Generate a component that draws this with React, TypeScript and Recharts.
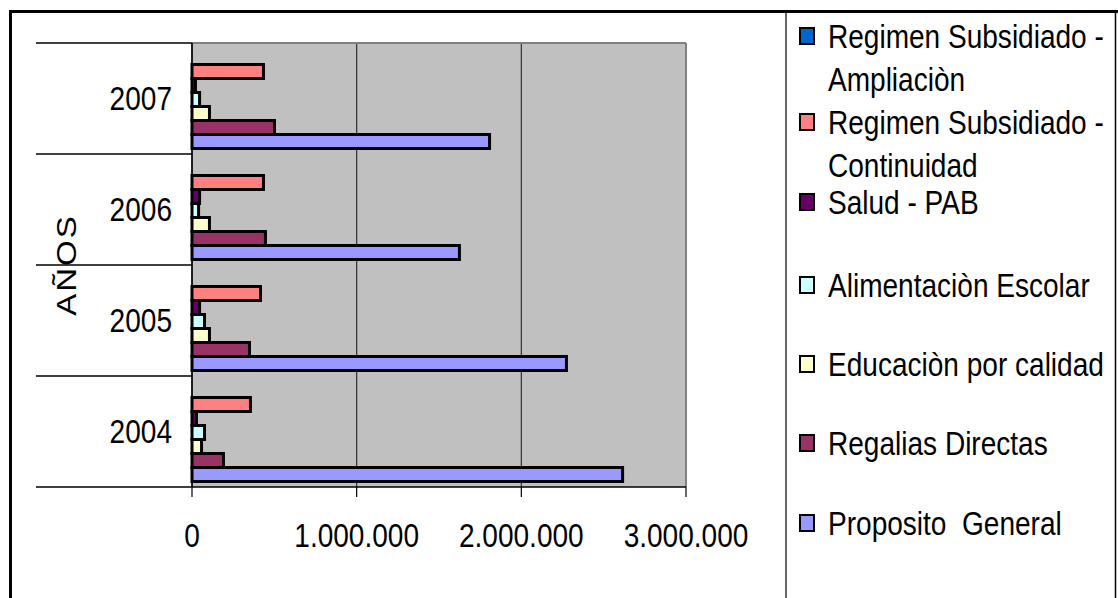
import React from 'react';
import { BarChart, Bar, XAxis, YAxis, CartesianGrid, usePlotArea } from 'recharts';

const years = ['2007', '2006', '2005', '2004'];
const ampliacion = [0, 0, 0, 0];
const continuidad = [434000, 434000, 416000, 355000];
const saludPab = [21000, 46000, 46000, 27000];
const alimentacion = [46000, 40000, 76000, 76000];
const educacion = [106000, 106000, 106000, 58000];
const regalias = [501000, 446000, 349000, 191000];
const proposito = [1807000, 1624000, 2274000, 2615000];
const xTicks = [0, 1000000, 2000000, 3000000];

const seriesKeys = ['amp', 'con', 'sal', 'ali', 'edu', 'reg', 'pro'];
const seriesNames = [
  'Regimen Subsidiado - Ampliaciòn',
  'Regimen Subsidiado - Continuidad',
  'Salud - PAB',
  'Alimentaciòn Escolar',
  'Educaciòn por calidad',
  'Regalias Directas',
  'Proposito  General',
];
const seriesColors = ['#0066CC', '#FF8080', '#660066', '#CCFFFF', '#FFFFCC', '#993366', '#9999FF'];
const seriesValues = [ampliacion, continuidad, saludPab, alimentacion, educacion, regalias, proposito];

const data = years.map((year, i) => {
  const row: any = { year };
  seriesKeys.forEach((k, j) => {
    row[k] = seriesValues[j][i];
  });
  return row;
});

const FONT = "'Liberation Sans', Arial, Helvetica, sans-serif";
const FS = 33;
const SX = 0.85;

const fmt = (v: number) => String(v).replace(/\B(?=(\d{3})+(?!\d))/g, '.');

function SText({ x, cy, anchor = 'start', children }: any) {
  return (
    <text
      transform={`translate(${x},${cy + FS * 0.358}) scale(${SX},1)`}
      textAnchor={anchor}
      fontSize={FS}
      fontFamily={FONT}
      fill="#000"
      style={{ whiteSpace: 'pre' }}
    >
      {children}
    </text>
  );
}

const YTick = (props: any) => {
  const { x, y, payload, index } = props;
  const off = payload && payload.offset ? payload.offset : 55.5;
  const axisX = x + 20;
  return (
    <g>
      {index === 0 && (
        <line x1={axisX - 156} x2={axisX} y1={y - off} y2={y - off} stroke="#000" strokeWidth={1.5} />
      )}
      <line x1={axisX - 156} x2={axisX} y1={y + off} y2={y + off} stroke="#000" strokeWidth={1.5} />
      <SText x={x} cy={y} anchor="end">{payload.value}</SText>
    </g>
  );
};

const XTick = (props: any) => {
  const { x, y, payload } = props;
  return <SText x={x} cy={y + 36} anchor="middle">{fmt(payload.value)}</SText>;
};

const YTitle = (props: any) => {
  const vb = props.viewBox || { x: 12, y: 43, width: 180, height: 444 };
  const cx = vb.x + 54;
  const cy = vb.y + vb.height / 2;
  return (
    <text
      transform={`translate(${cx},${cy}) rotate(-90) scale(1,${SX})`}
      textAnchor="middle"
      dominantBaseline="central"
      fontSize={FS}
      fontFamily={FONT}
      letterSpacing={2}
      fill="#000"
    >
      AÑOS
    </text>
  );
};

function PlotFrame() {
  const area: any = usePlotArea();
  if (!area) return null;
  const { x, y, width, height } = area;
  return (
    <g>
      <line x1={x} x2={x + width} y1={y} y2={y} stroke="#808080" strokeWidth={2} />
      <line x1={x + width} x2={x + width} y1={y} y2={y + height} stroke="#808080" strokeWidth={2} />
    </g>
  );
}

const legendItems = [
  { cy: 36, lines: ['Regimen Subsidiado -', 'Ampliaciòn'] },
  { cy: 122, lines: ['Regimen Subsidiado -', 'Continuidad'] },
  { cy: 202, lines: [seriesNames[2]] },
  { cy: 285, lines: [seriesNames[3]] },
  { cy: 364, lines: [seriesNames[4]] },
  { cy: 443, lines: [seriesNames[5]] },
  { cy: 523, lines: [seriesNames[6]] },
];

function LegendBox() {
  return (
    <svg width={1118} height={598} style={{ position: 'absolute', left: 0, top: 0 }}>
      <line x1={786} x2={786} y1={11} y2={598} stroke="#000" strokeWidth={1.2} />
      <line x1={1115.5} x2={1115.5} y1={11} y2={598} stroke="#000" strokeWidth={1.5} />
      {legendItems.map((it, i) => (
        <g key={i}>
          <rect x={800} y={it.cy - 8} width={14} height={16} fill={seriesColors[i]} stroke="#000" strokeWidth={2} />
          {it.lines.map((ln, j) => (
            <SText key={j} x={828} cy={it.cy + j * 43}>{ln}</SText>
          ))}
        </g>
      ))}
    </svg>
  );
}

export default function App() {
  return (
    <div style={{ position: 'absolute', left: 0, top: 0, width: 1118, height: 598, overflow: 'hidden', background: '#fff' }}>
      <div
        style={{
          position: 'absolute',
          left: 9,
          top: 10,
          width: 1300,
          height: 800,
          border: '3px solid #000',
          boxSizing: 'border-box',
        }}
      />
      <div style={{ position: 'absolute', left: 0, top: 0 }}>
        <BarChart
          width={1118}
          height={598}
          layout="vertical"
          data={data}
          margin={{ top: 43, right: 432, bottom: 0, left: 12 }}
          barGap={0}
          barCategoryGap="6.8%"
        >
          <CartesianGrid horizontal={false} stroke="#303030" strokeWidth={1.2} fill="#C0C0C0" fillOpacity={1} />
          <PlotFrame />
          <XAxis
            type="number"
            domain={[0, 3000000]}
            ticks={xTicks}
            interval={0}
            height={111}
            tickSize={10}
            tickMargin={2}
            axisLine={{ stroke: '#000', strokeWidth: 1.5 }}
            tickLine={{ stroke: '#000', strokeWidth: 1.2 }}
            tick={<XTick />}
          />
          <YAxis
            type="category"
            dataKey="year"
            width={180}
            tickSize={0}
            tickMargin={20}
            interval={0}
            axisLine={{ stroke: '#000', strokeWidth: 1.5 }}
            tick={<YTick />}
            label={<YTitle />}
          />
          {seriesKeys.map((k, i) => (
            <Bar
              key={k}
              dataKey={k}
              name={seriesNames[i]}
              fill={seriesColors[i]}
              stroke="#000"
              strokeWidth={3}
              isAnimationActive={false}
            />
          ))}
        </BarChart>
      </div>
      <LegendBox />
    </div>
  );
}
